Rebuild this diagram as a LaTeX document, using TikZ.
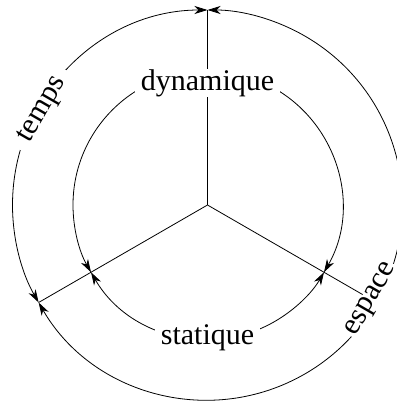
\documentclass[tikz,border=0pt]{standalone}
\usepackage{fontspec}
\setmainfont{Liberation Serif}
\usetikzlibrary{arrows.meta}

\begin{document}
\begin{tikzpicture}[
  x=1pt, y=1pt,
  ln/.style={line width=0.8pt},
  tip/.style={>={Stealth[length=13pt,width=8pt,inset=4pt]}},
  arr/.style={ln, tip, <->},
  arrS/.style={ln, tip, <-},
  arrE/.style={ln, tip, ->},
  lbl/.style={
    fill=white, inner xsep=6pt, inner ysep=0.5pt,
    font=\fontsize{30}{36}\selectfont},
]
\useasboundingbox (-207.5,-196) rectangle (188.5,205);

%% POINTS
\coordinate (O)  at (0,0);
\coordinate (T)  at (90:195pt);
\coordinate (L)  at (210:195pt);
\coordinate (R)  at (330:195pt);
\coordinate (iT) at (90:134.5pt);
\coordinate (iL) at (210:134.5pt);
\coordinate (iR) at (330:134.5pt);

%% SPOKES
\draw[ln] (O) -- (T);
\draw[ln] (O) -- (L);
\draw[ln] (O) -- (R);

%% OUTER CIRCLE
\draw[arr]  (T) arc (90:210:195pt);
\draw[arrS] (L) arc (210:330:195pt);
\draw[arrE] (R) arc (-30:90:195pt);

%% INNER CIRCLE
\draw[arrE] (iT) arc (90:210:134.5pt);
\draw[arr]  (iL) arc (210:330:134.5pt);
\draw[arrS] (iR) arc (-30:90:134.5pt);

%% LABELS
\node[lbl] (dyn)  at (0,122) {dynamique};
\node[lbl] (stat) at (0,-133)  {statique};
\node[lbl, rotate=60, inner xsep=10pt] (temps) at (150:190pt) {temps};
\node[lbl, rotate=60, inner xsep=2pt]  (esp)   at (330:190pt) {espace};

\end{tikzpicture}
\end{document}
